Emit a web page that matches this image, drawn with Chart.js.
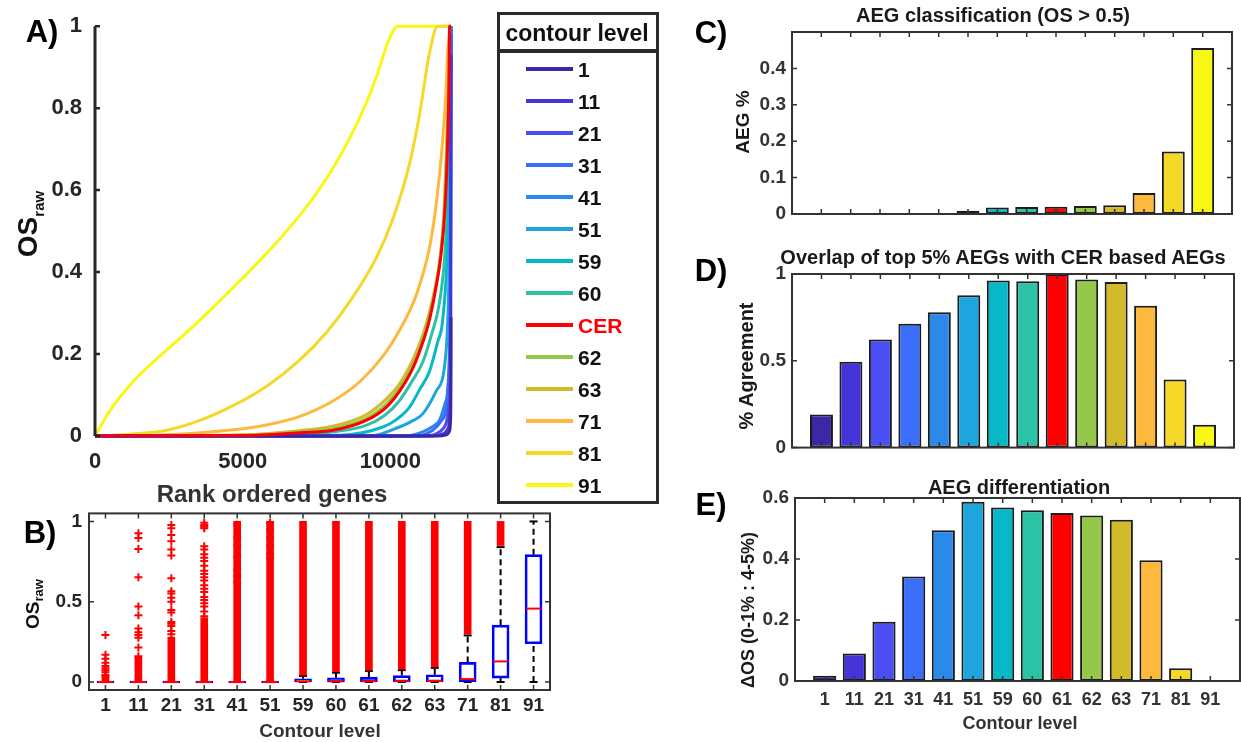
<!DOCTYPE html>
<html>
<head>
<meta charset="utf-8">
<script src="https://cdn.jsdelivr.net/npm/chart.js@4/dist/chart.umd.min.js"></script>
<style>
  html, body { margin: 0; padding: 0; background: #fff; }
  #page { position: relative; width: 1241px; height: 742px; overflow: hidden;
          font-family: "Liberation Sans", Arial, Helvetica, sans-serif; }
  .pane { position: absolute; }
  .txt { position: absolute; white-space: nowrap; font-weight: bold; color: #262626;
         line-height: 1; transform: translate(-50%, -50%); }
  .rot { transform: translate(-50%, -50%) rotate(-90deg); }
  .letter { color: #000; }
  .lgbox { position: absolute; box-sizing: border-box; border: 3px solid #2b2b2b; background: #fff; }
  .lgline { position: absolute; height: 4px; }
  .lgtxt { position: absolute; font-weight: bold; font-size: 21px; line-height: 1; color: #111;
           transform: translateY(-50%); }
</style>
</head>
<body>
<div id="page"></div>
<script>
// ---- contour levels shared by every panel ----
const levels = ['1', '11', '21', '31', '41', '51', '59', '60', '61', '62', '63', '71', '81', '91'];
const legendNames = ['1', '11', '21', '31', '41', '51', '59', '60', 'CER', '62', '63', '71', '81', '91'];
const levelColors = ['#3d27a6', '#4535d8', '#4a4ef3', '#3b6ffb', '#2b8ae9', '#1ea5dd', '#07b8c8',
                     '#2cc2a5', '#ff0000', '#94c74a', '#d3ba2b', '#fdb83d', '#f5d828', '#f9f714'];

// ---- A) OS_raw along rank-ordered genes, one curve per level: [gene rank, OS] ----
const curveL1  = [[0,0],[11600,0],[11900,0.003],[12000,0.012],[12035,0.04],[12046,0.12],[12050,0.29]];
const curveL11 = [[0,0],[11400,0],[11800,0.006],[11960,0.02],[12020,0.06],[12042,0.2],[12050,0.93]];
const curveL21 = [[0,0],[11200,0],[11650,0.01],[11880,0.03],[11985,0.08],[12030,0.22],[12050,0.98]];
const curveL31 = [[0,0],[10900,0],[11430,0.014],[11700,0.035],[11880,0.065],[11980,0.15],[12030,0.38],[12050,1]];
const curveL41 = [[0,0],[10500,0],[11092,0.01],[11400,0.022],[11655,0.038],[11850,0.08],[11937,0.115],[12010,0.27],[12040,0.55],[12050,1]];
const curveL51 = [[0,0],[9300,0],[10304,0.022],[10700,0.035],[11092,0.054],[11543,0.109],[11880,0.204],[11990,0.42],[12040,0.75],[12050,1]];
const curveL59 = [[0,0],[8300,0.002],[9741,0.022],[10200,0.04],[10642,0.07],[11000,0.115],[11318,0.157],[11600,0.23],[11768,0.283],[11950,0.5],[12030,0.8],[12050,1]];
const curveL60 = [[0,0],[6500,0.002],[8000,0.01],[9178,0.026],[9800,0.05],[10304,0.086],[10700,0.13],[11092,0.18],[11400,0.25],[11655,0.323],[11850,0.45],[11980,0.65],[12030,0.82],[12050,1]];
const curveCER = [[0,0],[5000,0.001],[6926,0.008],[8052,0.014],[9178,0.038],[9854,0.07],[10304,0.109],[10755,0.165],[11092,0.228],[11318,0.283],[11543,0.363],[11712,0.442],[11850,0.56],[11937,0.72],[11980,0.86],[12000,1],[12050,1]];
const curveL62 = [[0,0],[5000,0.002],[6926,0.01],[8052,0.018],[9178,0.043],[9854,0.078],[10304,0.116],[10755,0.174],[11092,0.236],[11318,0.292],[11543,0.37],[11712,0.452],[11850,0.58],[11950,0.8],[12050,1]];
const curveL63 = [[0,0],[5000,0.003],[6926,0.013],[8052,0.024],[9178,0.052],[9854,0.09],[10304,0.127],[10755,0.186],[11092,0.246],[11318,0.302],[11543,0.372],[11655,0.42],[11800,0.53],[11920,0.75],[12050,1]];
const curveL71 = [[0,0],[1500,0.001],[2421,0.003],[3547,0.008],[4673,0.015],[5800,0.027],[6940,0.048],[8067,0.086],[8970,0.133],[9760,0.196],[10325,0.26],[10890,0.347],[11340,0.466],[11567,0.576],[11768,0.72],[11880,0.84],[11950,0.948],[12050,1]];
const curveL81 = [[0,0],[1295,0.005],[2421,0.014],[3547,0.038],[4673,0.074],[5800,0.121],[6926,0.185],[7827,0.252],[8727,0.339],[9516,0.434],[10079,0.529],[10642,0.663],[10980,0.782],[11318,0.933],[11599,1],[12050,1]];
const curveL91 = [[0,0],[507,0.062],[1295,0.133],[2084,0.188],[2872,0.238],[3773,0.298],[4673,0.362],[5574,0.428],[6362,0.49],[7038,0.548],[7601,0.603],[8165,0.667],[8727,0.742],[9178,0.812],[9516,0.874],[9966,0.97],[10248,1],[12050,1]];
const osCurves = [curveL1, curveL11, curveL21, curveL31, curveL41, curveL51, curveL59,
                  curveL60, curveCER, curveL62, curveL63, curveL71, curveL81, curveL91];
const geneCount = 12050;
const aTicksX = [0, 5000, 10000];
const aTicksY = [0, 0.2, 0.4, 0.6, 0.8, 1];

// ---- B) box plot summary per level ----
const boxQ1       = [0, 0, 0, 0, 0, 0, 0, 0, 0, 0, 0, 0, 0.024, 0.238];
const boxMedian   = [0, 0, 0, 0, 0, 0, 0.004, 0.004, 0.005, 0.005, 0.006, 0.018, 0.128, 0.457];
const boxQ3       = [0, 0, 0, 0, 0, 0.004, 0.02, 0.026, 0.03, 0.04, 0.045, 0.122, 0.354, 0.793];
const whiskerLow  = [0, 0, 0, 0, 0, 0, 0, 0, 0, 0, 0, 0, 0, 0];
const whiskerHigh = [0, 0, 0, 0, 0, 0.005, 0.038, 0.058, 0.068, 0.074, 0.088, 0.29, 0.84, 1];
// runs of outliers so dense that their markers merge into a solid column: [from, to]
const outlierBands = [
  [[0.004, 0.03]], [[0.004, 0.155]], [[0.004, 0.28]], [[0.004, 0.40]],
  [[0.004, 1.0]], [[0.006, 1.0]], [[0.042, 1.0]], [[0.063, 1.0]], [[0.073, 1.0]],
  [[0.079, 1.0]], [[0.093, 1.0]], [[0.30, 1.0]], [[0.85, 1.0]], []
];
// individual outliers
const outlierPoints = [
  [0.293, 0.169, 0.144, 0.12, 0.1, 0.085, 0.073, 0.06, 0.043, 0.035],
  [0.927, 0.896, 0.829, 0.652, 0.47, 0.415, 0.333, 0.31, 0.293, 0.276, 0.215, 0.16],
  [0.977, 0.957, 0.916, 0.876, 0.825, 0.788, 0.646, 0.565, 0.551, 0.524, 0.5, 0.449, 0.433, 0.374, 0.362, 0.348, 0.317, 0.297],
  [0.992, 0.977, 0.967, 0.957, 0.846, 0.825, 0.795, 0.774, 0.754, 0.724, 0.693, 0.673, 0.652, 0.632, 0.602, 0.581, 0.561, 0.53, 0.51, 0.49, 0.47, 0.439, 0.409],
  [0.98, 0.9, 0.85, 0.78, 0.7, 0.66, 0.62],
  [0.99, 0.95, 0.9, 0.85, 0.8, 0.77],
  [], [], [], [], [], [], [], []
];
const bTicksY = [0, 0.5, 1];

// ---- C) AEG classification (OS > 0.5) ----
const aegPercent = [0, 0.001, 0.001, 0.0005, 0.002, 0.009, 0.018, 0.019, 0.02, 0.022, 0.024, 0.058, 0.172, 0.456];
const cTicksY = [0, 0.1, 0.2, 0.3, 0.4];

// ---- D) overlap of top 5% AEGs with CER based AEGs ----
const agreement = [0.19, 0.494, 0.622, 0.713, 0.78, 0.877, 0.962, 0.958, 1.0, 0.969, 0.954, 0.817, 0.393, 0.132];
const dTicksY = [0, 0.5, 1];

// ---- E) AEG differentiation ----
const deltaOS = [0.017, 0.09, 0.194, 0.343, 0.494, 0.588, 0.569, 0.56, 0.551, 0.543, 0.529, 0.396, 0.042, 0];
const eTicksY = [0, 0.2, 0.4, 0.6];

// ================= drawing =================
Chart.defaults.font.family = '"Liberation Sans", Arial, Helvetica, sans-serif';
Chart.defaults.color = '#262626';
const page = document.getElementById('page');
const levelPos = levels.map((_, i) => i + 1);

// Axis frame with MATLAB-style inward tick marks, drawn over the data.
const frame = {
  id: 'frame',
  afterDatasetsDraw(chart, args, o) {
    const { ctx, chartArea: a, scales } = chart;
    ctx.save();
    ctx.strokeStyle = o.color;
    ctx.lineCap = 'butt';
    ctx.lineWidth = o.tickWidth;
    ctx.beginPath();
    (o.xTicks || []).forEach(v => {
      const px = scales.x.getPixelForValue(v);
      if (o.xTickSides.includes('bottom')) { ctx.moveTo(px, a.bottom); ctx.lineTo(px, a.bottom - o.tickLen); }
      if (o.xTickSides.includes('top')) { ctx.moveTo(px, a.top); ctx.lineTo(px, a.top + o.tickLen); }
    });
    (o.yTicks || []).forEach(v => {
      const py = scales.y.getPixelForValue(v);
      if (o.yTickSides.includes('left')) { ctx.moveTo(a.left, py); ctx.lineTo(a.left + o.tickLen, py); }
      if (o.yTickSides.includes('right')) { ctx.moveTo(a.right, py); ctx.lineTo(a.right - o.tickLen, py); }
    });
    ctx.stroke();
    ctx.lineWidth = o.lineWidth;
    ctx.lineJoin = 'miter';
    if (o.sides.length === 4) {
      ctx.strokeRect(a.left, a.top, a.right - a.left, a.bottom - a.top);
    } else {
      ctx.beginPath();
      if (o.sides.includes('left')) { ctx.moveTo(a.left, a.top); ctx.lineTo(a.left, a.bottom); }
      ctx.stroke();
    }
    ctx.restore();
  }
};

function tickLabelsFrom(values, labels) {
  return {
    afterBuildTicks: s => { s.ticks = values.map(v => ({ value: v })); },
    callback: labels ? (v => labels[levelPos.indexOf(v)]) : (v => String(v))
  };
}

function makePane(box, area, config) {
  const wrap = document.createElement('div');
  wrap.className = 'pane';
  Object.assign(wrap.style, { left: box.x + 'px', top: box.y + 'px', width: box.w + 'px', height: box.h + 'px' });
  const cv = document.createElement('canvas');
  cv.width = box.w; cv.height = box.h;
  cv.style.width = box.w + 'px'; cv.style.height = box.h + 'px';
  wrap.appendChild(cv);
  page.appendChild(wrap);
  const o = config.options;
  o.responsive = false;
  o.animation = false;
  o.devicePixelRatio = 1;
  o.layout = { padding: { left: 0, bottom: 0, top: area.top - box.y, right: box.x + box.w - area.right } };
  o.scales.y.afterFit = s => { s.width = area.left - box.x; };
  o.scales.x.afterFit = s => { s.height = box.y + box.h - area.bottom; };
  o.plugins = Object.assign({ legend: { display: false }, tooltip: { enabled: false } }, o.plugins || {});
  config.plugins = [frame];
  return new Chart(cv, config);
}

function axisCommon(extra) {
  return Object.assign({ grid: { display: false, drawTicks: false }, border: { display: false } }, extra);
}

// ---- A ----
{
  const tx = tickLabelsFrom(aTicksX);
  const ty = tickLabelsFrom(aTicksY);
  makePane({ x: 0, y: 0, w: 480, h: 480 }, { left: 95, top: 15, right: 451, bottom: 436 }, {
    type: 'line',
    data: {
      datasets: osCurves.map((c, i) => ({
        label: legendNames[i],
        data: c.map(([x, y]) => ({ x, y })),
        borderColor: levelColors[i],
        borderWidth: 3,
        pointRadius: 0,
        cubicInterpolationMode: 'monotone',
        clip: false,
        order: legendNames[i] === 'CER' ? 0 : 1
      }))
    },
    options: {
      scales: {
        x: axisCommon({ type: 'linear', min: 0, max: geneCount, afterBuildTicks: tx.afterBuildTicks,
          ticks: { callback: tx.callback, padding: 13, maxRotation: 0, autoSkip: false,
                   font: { size: 22, weight: 'bold' }, color: '#262626' } }),
        y: axisCommon({ type: 'linear', min: 0, max: 1, afterBuildTicks: ty.afterBuildTicks,
          ticks: { callback: ty.callback, padding: 13, autoSkip: false,
                   font: { size: 22, weight: 'bold' }, color: '#262626' } })
      },
      plugins: { frame: { color: '#262626', lineWidth: 3, tickWidth: 2.5, tickLen: 5, sides: ['left'],
                          yTicks: aTicksY, yTickSides: ['left'], xTicks: [], xTickSides: [] } }
    }
  });
}

// ---- B ----
{
  const whisk = [], caps = [], boxes = [], bands = [], pts = [], meds = [];
  levels.forEach((_, i) => {
    const x = i + 1;
    if (whiskerHigh[i] > boxQ3[i]) whisk.push({ x, y: boxQ3[i] }, { x, y: whiskerHigh[i] }, { x, y: null });
    if (whiskerLow[i] < boxQ1[i]) whisk.push({ x, y: whiskerLow[i] }, { x, y: boxQ1[i] }, { x, y: null });
    caps.push({ x, y: whiskerHigh[i] }, { x, y: whiskerLow[i] });
    boxes.push({ x, y: [boxQ1[i], boxQ3[i]] });
    outlierBands[i].forEach(b => bands.push({ x, y: [b[0], b[1]] }));
    outlierPoints[i].forEach(v => pts.push({ x, y: v }));
    meds.push({ x, y: boxMedian[i] });
  });
  const tx = tickLabelsFrom(levelPos, levels);
  const ty = tickLabelsFrom(bTicksY);
  makePane({ x: 0, y: 495, w: 570, h: 247 }, { left: 89, top: 510, right: 550, bottom: 690 }, {
    type: 'bar',
    data: {
      datasets: [
        { type: 'line', data: whisk, borderColor: '#000', borderWidth: 2, borderDash: [6, 4],
          pointRadius: 0, spanGaps: false, clip: false, order: 6 },
        { type: 'line', data: caps, showLine: false, pointStyle: 'line', pointRadius: 4,
          pointBorderWidth: 2, pointBorderColor: '#000', clip: false, order: 5 },
        { type: 'bar', data: boxes, backgroundColor: 'rgba(255,255,255,0)', borderColor: '#0000ff',
          borderWidth: 2, borderSkipped: false, barThickness: 17, minBarLength: 2, grouped: false,
          clip: false, order: 3 },
        { type: 'bar', data: bands, backgroundColor: '#ff0000', borderWidth: 0, barThickness: 7,
          grouped: false, clip: false, order: 2 },
        { type: 'line', data: pts, showLine: false, pointStyle: 'cross', pointRadius: 4,
          pointBorderWidth: 2, pointBorderColor: '#ff0000', clip: false, order: 1 },
        { type: 'line', data: meds, showLine: false, pointStyle: 'line', pointRadius: 7.5,
          pointBorderWidth: 2, pointBorderColor: '#ff0000', clip: false, order: 0 }
      ]
    },
    options: {
      scales: {
        x: axisCommon({ type: 'linear', min: 0.5, max: 14.5, offset: false, afterBuildTicks: tx.afterBuildTicks,
          ticks: { callback: tx.callback, padding: 4, maxRotation: 0, autoSkip: false,
                   font: { size: 19, weight: 'bold' }, color: '#262626' } }),
        y: axisCommon({ type: 'linear', min: -0.05, max: 1.05, afterBuildTicks: ty.afterBuildTicks,
          ticks: { callback: ty.callback, padding: 7, autoSkip: false,
                   font: { size: 19, weight: 'bold' }, color: '#262626' } })
      },
      plugins: { frame: { color: '#333', lineWidth: 2, tickWidth: 1.5, tickLen: 5,
                          sides: ['left', 'right', 'top', 'bottom'],
                          yTicks: bTicksY, yTickSides: ['left', 'right'],
                          xTicks: levelPos, xTickSides: ['top', 'bottom'] } }
    }
  });
}

// ---- C, D, E bar panels ----
function barPane(box, area, values, yMax, yTicks, showX) {
  const tx = tickLabelsFrom(levelPos, levels);
  const ty = tickLabelsFrom(yTicks);
  return makePane(box, area, {
    type: 'bar',
    data: {
      datasets: [{
        data: values.map((v, i) => ({ x: i + 1, y: v })),
        backgroundColor: levelColors,
        borderColor: '#1c1c1c',
        borderWidth: 2,
        borderSkipped: false,
        barPercentage: 0.78,
        categoryPercentage: 1,
        clip: false
      }]
    },
    options: {
      scales: {
        x: axisCommon({ type: 'linear', min: 0, max: 15, offset: false, afterBuildTicks: tx.afterBuildTicks,
          ticks: { display: showX, callback: tx.callback, padding: 8, maxRotation: 0, autoSkip: false,
                   font: { size: 18, weight: 'bold' }, color: '#333' } }),
        y: axisCommon({ type: 'linear', min: 0, max: yMax, afterBuildTicks: ty.afterBuildTicks,
          ticks: { callback: ty.callback, padding: 6, autoSkip: false,
                   font: { size: 19, weight: 'bold' }, color: '#333' } })
      },
      plugins: { frame: { color: '#333', lineWidth: 2, tickWidth: 1.5, tickLen: 5,
                          sides: ['left', 'right', 'top', 'bottom'],
                          yTicks, yTickSides: ['left', 'right'],
                          xTicks: levelPos, xTickSides: ['top', 'bottom'] } }
    }
  });
}
barPane({ x: 680, y: 0, w: 561, h: 240 }, { left: 792, top: 32, right: 1232, bottom: 214 }, aegPercent, 0.5, cTicksY, false);
barPane({ x: 680, y: 240, w: 561, h: 225 }, { left: 792, top: 274, right: 1234, bottom: 457 }, agreement, 1, dTicksY, false);
barPane({ x: 680, y: 470, w: 561, h: 272 }, { left: 795, top: 498, right: 1240, bottom: 681 }, deltaOS, 0.6, eTicksY, true);

// ---- legend for panel A ----
{
  const t = document.createElement('div');
  t.className = 'lgbox';
  Object.assign(t.style, { left: '497px', top: '12px', width: '162px', height: '40px' });
  page.appendChild(t);
  const b = document.createElement('div');
  b.className = 'lgbox';
  Object.assign(b.style, { left: '497px', top: '50px', width: '162px', height: '454px' });
  page.appendChild(b);
  const tt = document.createElement('div');
  tt.className = 'txt';
  Object.assign(tt.style, { left: '577px', top: '33px', fontSize: '23px', color: '#111' });
  tt.textContent = 'contour level';
  page.appendChild(tt);
  legendNames.forEach((name, i) => {
    const cy = 69 + i * 32;
    const ln = document.createElement('div');
    ln.className = 'lgline';
    Object.assign(ln.style, { left: '526px', width: '47px', top: (cy - 2) + 'px', background: levelColors[i] });
    page.appendChild(ln);
    const tx = document.createElement('div');
    tx.className = 'lgtxt';
    Object.assign(tx.style, { left: '578px', top: cy + 'px', color: name === 'CER' ? '#ff0000' : '#111' });
    tx.textContent = name;
    page.appendChild(tx);
  });
}

// ---- panel letters, titles and axis labels ----
function label(html, cx, cy, size, cls, color) {
  const d = document.createElement('div');
  d.className = 'txt' + (cls ? ' ' + cls : '');
  d.style.left = cx + 'px';
  d.style.top = cy + 'px';
  d.style.fontSize = size + 'px';
  if (color) d.style.color = color;
  d.innerHTML = html;
  page.appendChild(d);
}
label('A)', 42, 31, 31, 'letter');
label('B)', 40, 532, 31, 'letter');
label('C)', 711, 32, 31, 'letter');
label('D)', 711, 270, 31, 'letter');
label('E)', 711, 504, 31, 'letter');

label('OS<sub style="font-size:15px">raw</sub>', 30, 224, 28, 'rot', '#111');
label('Rank ordered genes', 272, 494, 24, '', '#333');
label('OS<sub style="font-size:13px">raw</sub>', 34, 604, 19, 'rot', '#111');
label('Contour level', 320, 730, 19, '', '#333');

label('AEG classification (OS &gt; 0.5)', 993, 15, 20, '', '#1a1a1a');
label('AEG %', 742, 122, 19, 'rot', '#1a1a1a');
label('Overlap of top 5% AEGs with CER based AEGs', 1003, 257, 20, '', '#1a1a1a');
label('% Agreement', 746, 366, 20, 'rot', '#1a1a1a');
label('AEG differentiation', 1019, 487, 20, '', '#1a1a1a');
label('ΔOS (0-1% : 4-5%)', 748, 610, 18, 'rot', '#1a1a1a');
label('Contour level', 1020, 723, 18, '', '#333');
</script>
</body>
</html>
